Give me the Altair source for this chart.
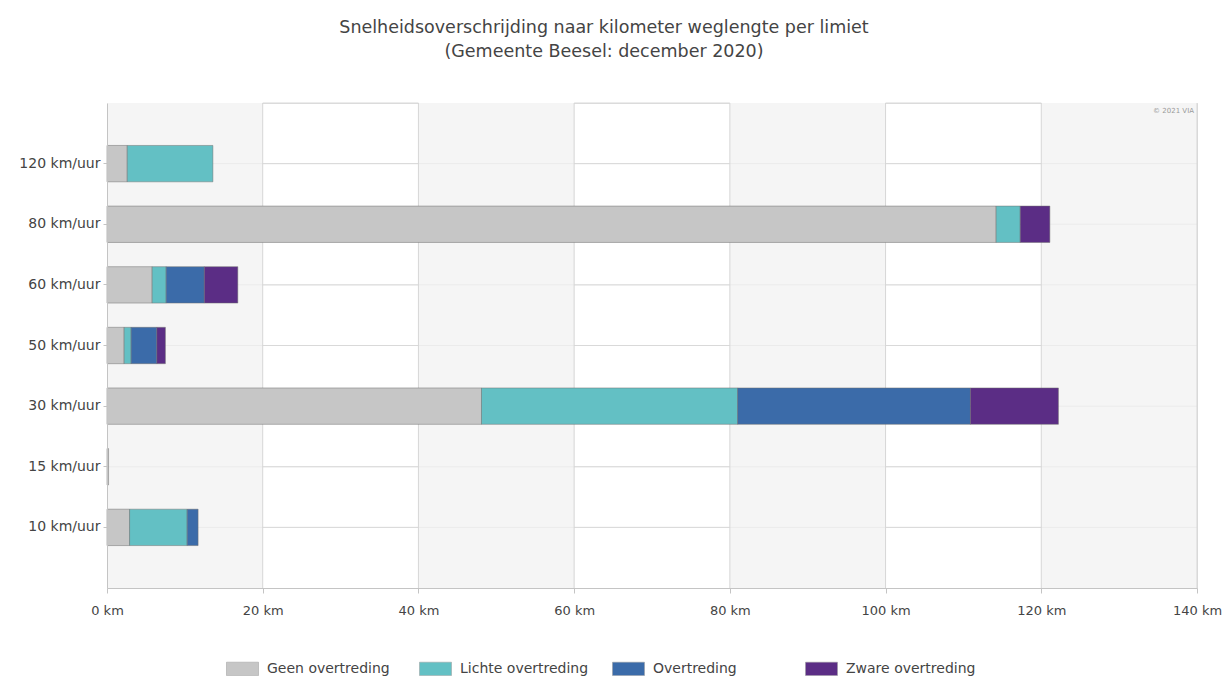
import altair as alt
import pandas as pd

# ---- data (km of road per speed limit, December 2020) ----
limits = ["120 km/uur", "80 km/uur", "60 km/uur", "50 km/uur", "30 km/uur", "15 km/uur", "10 km/uur"]
classes = ["Geen overtreding", "Lichte overtreding", "Overtreding", "Zware overtreding"]
class_colors = ["#c6c6c6", "#63c0c4", "#3b6ba9", "#5b2d85"]

geen = [2.6, 114.2, 5.8, 2.2, 48.1, 0.2, 2.9]
lichte = [11.0, 3.1, 1.8, 0.9, 32.9, 0.0, 7.4]
overtreding = [0.0, 0.0, 4.9, 3.3, 29.9, 0.0, 1.4]
zware = [0.0, 3.8, 4.3, 1.1, 11.3, 0.0, 0.0]

x_ticks = [0, 20, 40, 60, 80, 100, 120, 140]
shaded_start = [0, 40, 80, 120]
shaded_end = [20, 60, 100, 140]
white_start = [20, 60, 100]
white_end = [40, 80, 120]

title_lines = ["Snelheidsoverschrijding naar kilometer weglengte per limiet",
               "(Gemeente Beesel: december 2020)"]
copyright_text = "© 2021 VIA"

FONT = "DejaVu Sans"
TEXT = "#444444"
AXIS = "#c4c4c4"

# ---- tables ----
rows = []
for series, cls in zip([geen, lichte, overtreding, zware], classes):
    for lim, v in zip(limits, series):
        if v > 0:
            rows.append({"limiet": lim, "klasse": cls, "km": v, "volgorde": classes.index(cls)})
bars_df = pd.DataFrame(rows)

shaded_df = pd.DataFrame({"x0": shaded_start, "x1": shaded_end})
white_df = pd.DataFrame({"x0": white_start, "x1": white_end})
hgrid_white = pd.DataFrame([{"x0": a, "x1": b, "limiet": l}
                            for a, b in zip(white_start, white_end) for l in limits])
hgrid_all = pd.DataFrame({"limiet": limits, "x0": [0] * len(limits), "x1": [140] * len(limits)})
vgrid_df = pd.DataFrame({"x0": x_ticks[1:]})

x_scale = alt.Scale(domain=[0, 140], nice=False, zero=True)
y_scale = alt.Scale(domain=limits, paddingInner=0.4, paddingOuter=0.7)

x_axis = alt.Axis(title=None, values=x_ticks, labelExpr="datum.value + ' km'",
                  domainColor=AXIS, tickColor=AXIS, tickSize=5, labelPadding=11,
                  labelFontSize=13, labelColor=TEXT, labelFont=FONT, grid=False,
                  labelFlush=False, labelOverlap=False, zindex=1)
y_axis = alt.Axis(title=None, domainColor=AXIS, tickColor=AXIS, tickSize=4,
                  labelPadding=3, labelFontSize=14, labelColor=TEXT, labelFont=FONT,
                  grid=False, zindex=1)


def X(field):
    return alt.X(field, scale=x_scale, axis=x_axis, title=None)


def Y():
    return alt.Y("limiet:N", scale=y_scale, sort=limits, axis=y_axis, title=None)


shaded = alt.Chart(shaded_df).mark_rect(fill="#f5f5f5").encode(
    x=X("x0:Q"), x2="x1:Q")

h_faint = alt.Chart(hgrid_all).mark_rule(color="#ebebeb", strokeWidth=1).encode(
    x=X("x0:Q"), x2="x1:Q", y=Y())

h_white = alt.Chart(hgrid_white).mark_rule(color="#d9d9d9", strokeWidth=1).encode(
    x=X("x0:Q"), x2="x1:Q", y=Y())

top_rule = alt.Chart(white_df).mark_rule(color="#d9d9d9", strokeWidth=1).encode(
    x=X("x0:Q"), x2="x1:Q", y=alt.value(0))

v_rules = alt.Chart(vgrid_df).mark_rule(color="#d6d6d6", strokeWidth=1).encode(
    x=X("x0:Q"))

bars = alt.Chart(bars_df).mark_bar(stroke="#6f6f6f", strokeWidth=0.7, strokeOpacity=0.7).encode(
    y=Y(),
    x=alt.X("km:Q", stack="zero", scale=x_scale, axis=x_axis, title=None),
    color=alt.Color("klasse:N", scale=alt.Scale(domain=classes, range=class_colors),
                    legend=alt.Legend(title=None, orient="none", legendX=119, legendY=549,
                                      direction="horizontal", columns=4, gridAlign="all",
                                      symbolType="M-1,-0.42H1V0.42H-1Z", symbolSize=1024,
                                      symbolStrokeColor="#9a9a9a", symbolStrokeWidth=0.5,
                                      columnPadding=21, labelOffset=8, labelFontSize=14,
                                      labelColor=TEXT, labelFont=FONT, labelLimit=300)),
    order=alt.Order("volgorde:Q", sort="ascending"),
)

copyright = alt.Chart(pd.DataFrame({"t": [copyright_text], "x0": [140]})).mark_text(
    align="right", baseline="middle", dx=-3, fontSize=7, color="#9a9a9a", font=FONT
).encode(x=X("x0:Q"), y=alt.value(8), text="t:N")

chart = alt.layer(shaded, h_faint, h_white, top_rule, v_rules, bars, copyright).properties(
    width=1090,
    height=485,
    autosize=alt.AutoSizeParams(type="none"),
    padding={"left": 99, "top": 95, "right": 25, "bottom": 88},
    title=alt.TitleParams(text=title_lines, fontSize=17.5, font=FONT, color=TEXT,
                          fontWeight="normal", anchor="middle", dx=-48, offset=42,
                          lineHeight=24),
).configure_view(stroke=None).configure(background="white")

chart.save("out.html", embed_options={"renderer": "svg", "actions": False})
